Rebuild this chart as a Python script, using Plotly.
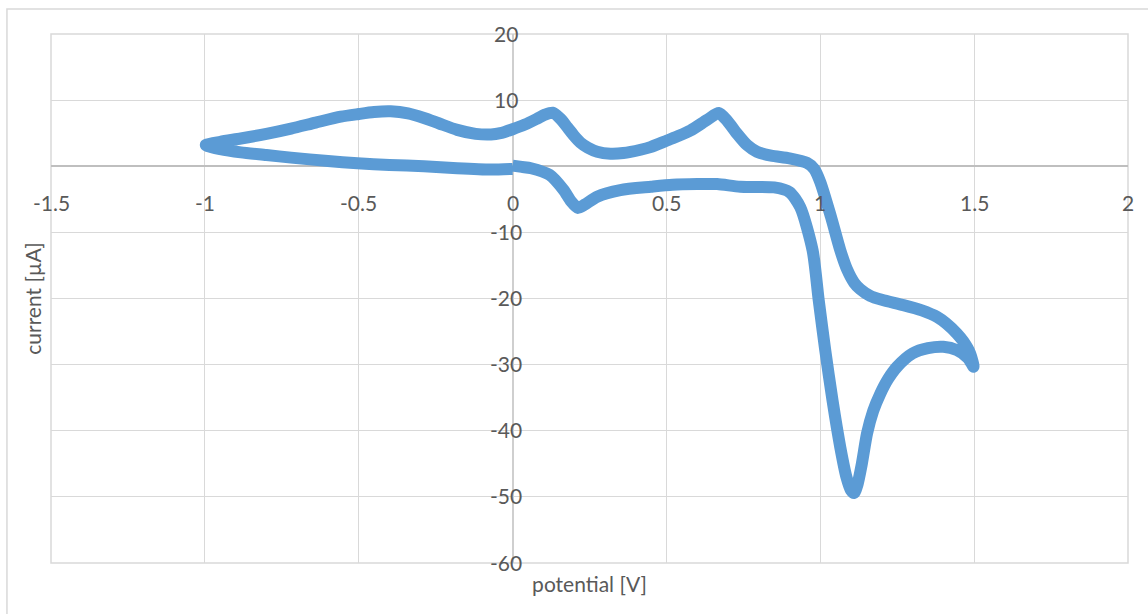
import plotly.graph_objects as go

# Forward scan 0 V -> 1.5 V (lower branch)
fwd_potential = [0.0, 0.03, 0.06, 0.12, 0.166, 0.19, 0.212, 0.235, 0.275, 0.35, 0.45, 0.52, 0.6,
                 0.665, 0.74, 0.85, 0.9, 0.935, 0.975, 0.995, 1.016, 1.04, 1.065, 1.085, 1.1,
                 1.11, 1.12, 1.135, 1.152, 1.172, 1.195, 1.22, 1.25, 1.3, 1.35, 1.4, 1.444,
                 1.48, 1.498]
fwd_current = [0.1, -0.1, -0.3, -1.3, -3.6, -5.3, -6.3, -5.8, -4.6, -3.6, -3.1, -2.8, -2.7,
               -2.7, -3.1, -3.2, -3.9, -6.2, -12.7, -20.3, -27.8, -35.5, -42.5, -47.0, -49.0,
               -49.4, -48.3, -45.0, -40.4, -37.0, -34.4, -32.2, -30.3, -28.3, -27.5, -27.3, -27.8,
               -29.0, -30.3]

# Reverse scan 1.5 V -> -1 V (upper branch)
rev_potential = [1.487, 1.465, 1.444, 1.41, 1.38, 1.33, 1.27, 1.2, 1.162, 1.13, 1.11, 1.087,
                 1.065, 1.035, 1.0, 0.98, 0.957, 0.9, 0.84, 0.794, 0.762, 0.73, 0.697,
                 0.67, 0.632, 0.578, 0.54, 0.502, 0.448, 0.416, 0.36, 0.318, 0.275,
                 0.245, 0.22, 0.2, 0.178, 0.155, 0.13, 0.105, 0.08, 0.04, 0.0, -0.04, -0.07,
                 -0.12, -0.18, -0.24, -0.288, -0.34, -0.396, -0.45, -0.5, -0.558, -0.64, -0.72,
                 -0.8, -0.883, -0.95, -0.997]
rev_current = [-28.3, -26.5, -25.3, -23.8, -22.8, -21.8, -21.0, -20.2, -19.6, -18.6, -17.6, -15.6,
               -12.7, -7.7, -2.4, -0.4, 0.5, 1.2, 1.6, 2.2, 3.2, 4.9, 6.9,
               8.05, 7.0, 5.4, 4.6, 3.9, 2.9, 2.5, 2.0, 1.9, 2.2,
               2.8, 3.6, 4.6, 5.9, 7.2, 8.1, 7.8, 7.2, 6.3, 5.6, 5.0, 4.8,
               4.9, 5.5, 6.5, 7.3, 8.0, 8.3, 8.2, 7.9, 7.5, 6.6, 5.7,
               4.9, 4.2, 3.7, 3.2]

# Return scan -1 V -> 0 V (lower left branch)
ret_potential = [-0.95, -0.883, -0.8, -0.72, -0.6, -0.504, -0.4, -0.288, -0.18, -0.071, 0.0]
ret_current = [2.6, 2.1, 1.7, 1.3, 0.8, 0.45, 0.2, 0.0, -0.3, -0.5, -0.4]

potential = fwd_potential + rev_potential + ret_potential
current = fwd_current + rev_current + ret_current

x_ticks = [-1.5, -1, -0.5, 0, 0.5, 1, 1.5, 2]
x_tick_labels = ["-1.5", "-1", "-0.5", "0", "0.5", "1", "1.5", "2"]
y_ticks = [20, 10, -10, -20, -30, -40, -50, -60]
y_tick_labels = ["20", "10", "-10", "-20", "-30", "-40", "-50", "-60"]

FONT = "Lato, Calibri, 'Open Sans', sans-serif"
TXT = "#595959"
GRID = "#D9D9D9"

fig = go.Figure()
fig.add_trace(go.Scatter(
    x=potential, y=current, mode="lines",
    line=dict(color="#5B9BD5", width=12, shape="spline", smoothing=0.7),
    showlegend=False, hoverinfo="x+y",
))

annotations = []
for v, t in zip(x_ticks, x_tick_labels):
    annotations.append(dict(x=v, y=0, xref="x", yref="y", text=t, showarrow=False,
                            xanchor="center", yanchor="middle", yshift=-36,
                            font=dict(family=FONT, size=21, color=TXT)))
for v, t in zip(y_ticks, y_tick_labels):
    annotations.append(dict(x=0, y=v, xref="x", yref="y", text=t, showarrow=False,
                            xanchor="center", yanchor="middle", xshift=-7, yshift=1,
                            font=dict(family=FONT, size=21, color=TXT)))

fig.update_layout(
    width=1148, height=614,
    margin=dict(l=51, r=20, t=34, b=51),
    paper_bgcolor="white", plot_bgcolor="white",
    font=dict(family=FONT, size=21, color=TXT),
    annotations=annotations,
    xaxis=dict(range=[-1.5, 2], tickvals=x_ticks, showticklabels=False, ticks="",
               showgrid=True, gridcolor=GRID, gridwidth=1,
               zeroline=True, zerolinecolor="#CFCFCF", zerolinewidth=1.5,
               showline=False, fixedrange=True,
               title=dict(text="potential [V]", standoff=14,
                          font=dict(family=FONT, size=21, color=TXT))),
    yaxis=dict(range=[-60, 20], tickvals=[20, 10, 0, -10, -20, -30, -40, -50, -60],
               showticklabels=False, ticks="",
               showgrid=True, gridcolor=GRID, gridwidth=1,
               zeroline=True, zerolinecolor="#BFBFBF", zerolinewidth=1.5,
               showline=False, fixedrange=True,
               title=dict(text="current [µA]", standoff=2,
                          font=dict(family=FONT, size=21, color=TXT))),
    shapes=[
        dict(type="rect", xref="x domain", yref="y domain", x0=0, x1=1, y0=0, y1=1,
             line=dict(color=GRID, width=1.5), layer="below"),
        dict(type="rect", xref="paper", yref="paper", x0=-0.0409, x1=1.03, y0=-0.12, y1=1.0473,
             line=dict(color=GRID, width=1.5), layer="below"),
    ],
)

fig.write_html("out.html", config={"displayModeBar": False},
               post_script="document.body.style.margin='0px';document.body.style.overflow='hidden';")
